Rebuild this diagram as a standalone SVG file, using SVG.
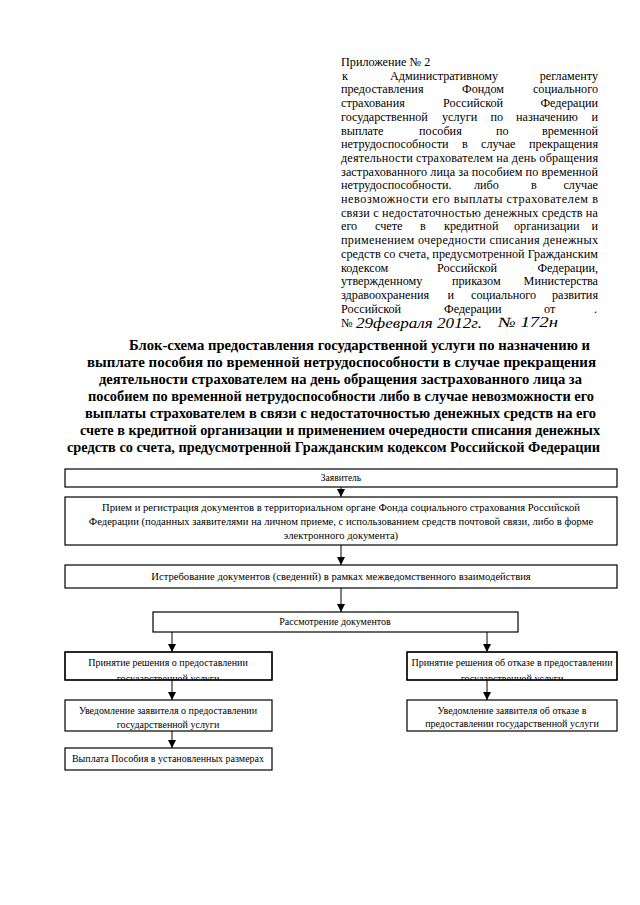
<svg xmlns="http://www.w3.org/2000/svg" width="640" height="905" viewBox="0 0 640 905">
<style>
  .hd { font-family: "Liberation Serif", "Times New Roman", serif; font-size: 12.2px; fill: #000; }
  .ttl { font-family: "Liberation Serif", "Times New Roman", serif; font-size: 14.5px; font-weight: bold; fill: #000; }
  .bx { fill: #fff; stroke: #000; stroke-width: 1.2; }
  .bt { font-family: "Liberation Serif", "Times New Roman", serif; font-size: 10px; fill: #000; text-anchor: middle; }
  .bt2 { font-family: "Liberation Serif", "Times New Roman", serif; font-size: 10.6px; fill: #000; text-anchor: middle; }
  .hw { font-family: "Liberation Serif", "Times New Roman", serif; font-style: italic; font-size: 14px; fill: #000; }
  .cn { stroke: #000; stroke-width: 1; fill: none; marker-end: url(#ah); }
</style>
<defs>
  <marker id="ah" viewBox="0 0 8 8" refX="8" refY="4" markerWidth="8" markerHeight="8" markerUnits="userSpaceOnUse" orient="auto">
    <path d="M0,0 L8,4 L0,8 Z" fill="#000"/>
  </marker>
  <clipPath id="c5"><rect x="65" y="652" width="207" height="28"/></clipPath>
  <clipPath id="c6"><rect x="65" y="700" width="207" height="31"/></clipPath>
  <clipPath id="cr1"><rect x="407" y="652" width="210" height="28"/></clipPath>
</defs>
<rect width="640" height="905" fill="#fff"/>

<g id="header">
  <text class="hd" x="341" y="66">Приложение № 2</text>
  <text class="hd" y="79.7"><tspan x="342">к</tspan><tspan x="390">Административному</tspan><tspan x="598" text-anchor="end">регламенту</tspan></text>
  <text class="hd" y="93.4"><tspan x="341">предоставления</tspan><tspan x="462">Фондом</tspan><tspan x="598" text-anchor="end">социального</tspan></text>
  <text class="hd" y="107.1"><tspan x="341">страхования</tspan><tspan x="443">Российской</tspan><tspan x="598" text-anchor="end">Федерации</tspan></text>
  <text class="hd" y="120.8"><tspan x="341">государственной</tspan><tspan x="442">услуги</tspan><tspan x="490.5">по</tspan><tspan x="516">назначению</tspan><tspan x="598" text-anchor="end">и</tspan></text>
  <text class="hd" y="134.5"><tspan x="341">выплате</tspan><tspan x="419">пособия</tspan><tspan x="496">по</tspan><tspan x="598" text-anchor="end">временной</tspan></text>
  <text class="hd" y="148.2"><tspan x="341">нетрудоспособности</tspan><tspan x="462">в</tspan><tspan x="481">случае</tspan><tspan x="598" text-anchor="end">прекращения</tspan></text>
  <text class="hd" x="341" y="161.9" textLength="257" lengthAdjust="spacing">деятельности страхователем на день обращения</text>
  <text class="hd" x="341" y="175.6" textLength="257" lengthAdjust="spacing">застрахованного лица за пособием по временной</text>
  <text class="hd" y="189.3"><tspan x="341">нетрудоспособности.</tspan><tspan x="474">либо</tspan><tspan x="531">в</tspan><tspan x="598" text-anchor="end">случае</tspan></text>
  <text class="hd" x="341" y="203" textLength="257" lengthAdjust="spacing">невозможности его выплаты страхователем в</text>
  <text class="hd" x="341" y="216.7" textLength="257" lengthAdjust="spacing">связи с недостаточностью денежных средств на</text>
  <text class="hd" y="230.4"><tspan x="341">его</tspan><tspan x="375">счете</tspan><tspan x="420">в</tspan><tspan x="444">кредитной</tspan><tspan x="514">организации</tspan><tspan x="598" text-anchor="end">и</tspan></text>
  <text class="hd" x="341" y="244.1" textLength="257" lengthAdjust="spacing">применением очередности списания денежных</text>
  <text class="hd" x="341" y="257.8" textLength="257" lengthAdjust="spacing">средств со счета, предусмотренной Гражданским</text>
  <text class="hd" y="271.5"><tspan x="341">кодексом</tspan><tspan x="437">Российской</tspan><tspan x="598" text-anchor="end">Федерации,</tspan></text>
  <text class="hd" y="285.2"><tspan x="341">утвержденному</tspan><tspan x="452">приказом</tspan><tspan x="598" text-anchor="end">Министерства</tspan></text>
  <text class="hd" y="298.9"><tspan x="341">здравоохранения</tspan><tspan x="447.5">и</tspan><tspan x="471">социального</tspan><tspan x="598" text-anchor="end">развития</tspan></text>
  <text class="hd" y="312.6"><tspan x="341">Российской</tspan><tspan x="444">Федерации</tspan><tspan x="544">от</tspan><tspan x="594">.</tspan></text>
  <text class="hd" x="341" y="327">№</text>
  <text class="hw" x="356" y="328" textLength="126" lengthAdjust="spacingAndGlyphs">29февраля 2012г.</text>
  <text class="hw" x="498" y="327" textLength="60" lengthAdjust="spacingAndGlyphs">№ 172н</text>
</g>

<g id="title">
  <text class="ttl" x="129" y="350" textLength="461" lengthAdjust="spacingAndGlyphs">Блок-схема предоставления государственной услуги по назначению и</text>
  <text class="ttl" x="87" y="367" textLength="509" lengthAdjust="spacingAndGlyphs">выплате пособия по временной нетрудоспособности в случае прекращения</text>
  <text class="ttl" x="99" y="384" textLength="483" lengthAdjust="spacingAndGlyphs">деятельности страхователем на день обращения застрахованного лица за</text>
  <text class="ttl" x="88" y="401" textLength="506" lengthAdjust="spacingAndGlyphs">пособием по временной нетрудоспособности либо в случае невозможности его</text>
  <text class="ttl" x="85" y="418" textLength="511" lengthAdjust="spacingAndGlyphs">выплаты страхователем в связи с недостаточностью денежных средств на его</text>
  <text class="ttl" x="80" y="435" textLength="520" lengthAdjust="spacingAndGlyphs">счете в кредитной организации и применением очередности списания денежных</text>
  <text class="ttl" x="67" y="452" textLength="533" lengthAdjust="spacingAndGlyphs">средств со счета, предусмотренной Гражданским кодексом Российской Федерации</text>
</g>

<g id="connectors">
  <line class="cn" x1="341" y1="487" x2="341" y2="497"/>
  <line class="cn" x1="341" y1="545" x2="341" y2="565"/>
  <line class="cn" x1="341" y1="588" x2="341" y2="612"/>
  <line class="cn" x1="172" y1="632" x2="172" y2="652"/>
  <line class="cn" x1="487" y1="632" x2="487" y2="652"/>
  <line class="cn" x1="172" y1="680" x2="172" y2="700"/>
  <line class="cn" x1="172" y1="731" x2="172" y2="748"/>
  <line class="cn" x1="487" y1="680" x2="487" y2="700"/>
</g>

<g id="n1">
  <rect class="bx" x="65" y="469" width="552" height="18"/>
  <text class="bt" x="341" y="481" style="font-size:9.5px">Заявитель</text>
</g>
<g id="n2">
  <rect class="bx" x="65" y="497" width="552" height="48"/>
  <text class="bt2" x="341" y="511">Прием и регистрация документов в территориальном органе Фонда социального страхования Российской</text>
  <text class="bt2" x="341" y="525">Федерации (поданных заявителями на личном приеме, с использованием средств почтовой связи, либо в форме</text>
  <text class="bt2" x="341" y="539">электронного документа)</text>
</g>
<g id="n3">
  <rect class="bx" x="65" y="565" width="552" height="23"/>
  <text class="bt2" x="341" y="580">Истребование документов (сведений) в рамках межведомственного взаимодействия</text>
</g>
<g id="n4">
  <rect class="bx" x="153" y="612" width="365" height="20"/>
  <text class="bt" x="335" y="625">Рассмотрение документов</text>
</g>
<g id="n5">
  <rect class="bx" x="65" y="652" width="207" height="28"/>
  <g clip-path="url(#c5)">
    <text class="bt" x="168" y="666">Принятие решения о предоставлении</text>
    <text class="bt" x="168" y="682">государственной услуги</text>
  </g>
  <rect x="65" y="652" width="207" height="28" fill="none" stroke="#000" stroke-width="1.2"/>
</g>
<g id="n6">
  <rect class="bx" x="65" y="700" width="207" height="31"/>
  <g clip-path="url(#c6)">
    <text class="bt" x="168" y="714">Уведомление заявителя о предоставлении</text>
    <text class="bt" x="168" y="728">государственной услуги</text>
  </g>
</g>
<g id="n7">
  <rect class="bx" x="65" y="748" width="207" height="22"/>
  <text class="bt" x="168" y="762">Выплата Пособия в установленных размерах</text>
</g>
<g id="r1">
  <rect class="bx" x="407" y="652" width="210" height="28"/>
  <g clip-path="url(#cr1)">
    <text class="bt" x="512" y="666">Принятие решения об отказе в предоставлении</text>
    <text class="bt" x="512" y="682">государственной услуги</text>
  </g>
  <rect x="407" y="652" width="210" height="28" fill="none" stroke="#000" stroke-width="1.2"/>
</g>
<g id="r2">
  <rect class="bx" x="407" y="700" width="210" height="31"/>
  <text class="bt" x="512" y="714">Уведомление заявителя об отказе в</text>
  <text class="bt" x="512" y="727">предоставлении государственной услуги</text>
</g>
</svg>
